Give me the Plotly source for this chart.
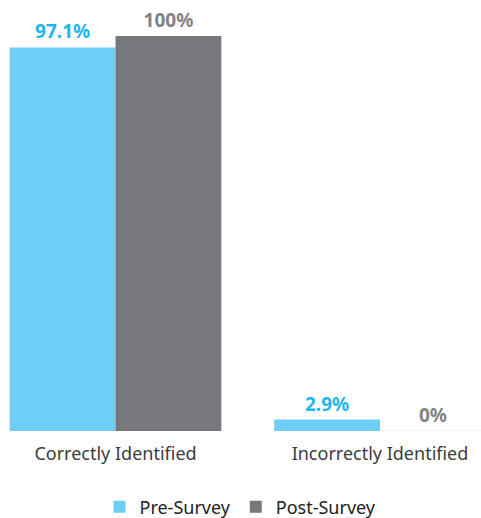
import plotly.graph_objects as go

categories = ["Correctly Identified", "Incorrectly Identified"]
pre_survey = [97.1, 2.9]
post_survey = [100, 0]
series_names = ["Pre-Survey", "Post-Survey"]

BLUE = "#6DCFF6"
GRAY = "#77787B"
FONT = "Noto Sans"


def pct(values):
    return [f"{v:g}%" for v in values]


fig = go.Figure()
fig.add_trace(go.Bar(
    name=series_names[0], x=categories, y=pre_survey,
    marker=dict(color=BLUE, line=dict(width=0)),
    text=pct(pre_survey), textposition="outside", cliponaxis=False,
    textfont=dict(family=FONT, size=19, color="#1FB6EE", weight="bold"),
))
fig.add_trace(go.Bar(
    name=series_names[1], x=categories, y=post_survey,
    marker=dict(color=GRAY, line=dict(width=0)),
    text=pct(post_survey), textposition="outside", cliponaxis=False,
    textfont=dict(family=FONT, size=19, color="#828387", weight="bold"),
))

# faint baseline under the second group
fig.add_shape(type="line", xref="x", yref="y", x0=0.6, x1=1.4, y0=0, y1=0,
              line=dict(color="#E6E6E6", width=1), layer="below")

fig.update_layout(
    width=481, height=518,
    margin=dict(l=0, r=0, t=36, b=87, autoexpand=False),
    paper_bgcolor="white", plot_bgcolor="white",
    barmode="group", bargap=0.2, bargroupgap=0,
    showlegend=True,
    legend=dict(orientation="h", x=0.5, xanchor="center",
                yref="container", y=0.021, yanchor="middle",
                font=dict(family=FONT, size=18, color="#222222")),
    font=dict(family=FONT),
)
fig.update_xaxes(range=[-0.4367, 1.3819], showgrid=False, zeroline=False, showline=False,
                 ticks="", ticklabelstandoff=10,
                 tickfont=dict(family=FONT, size=18, color="#3C3C3C"))
fig.update_yaxes(range=[0, 100], visible=False, showgrid=False, zeroline=False)

fig.write_html("out.html")
